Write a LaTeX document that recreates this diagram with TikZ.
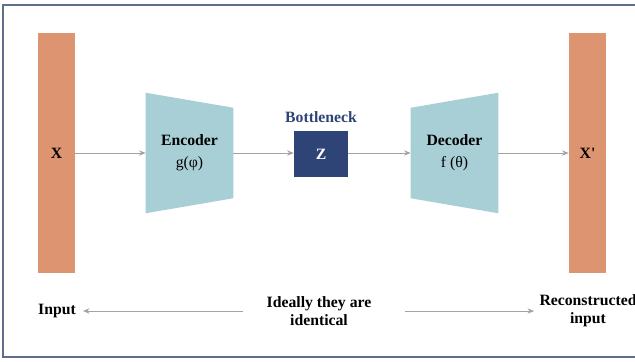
\documentclass[tikz,border=0pt]{standalone}
\usepackage{fontspec}
\setmainfont{Liberation Serif}
\usetikzlibrary{arrows.meta,backgrounds,calc}

\definecolor{naranja}{HTML}{DD9571}
\definecolor{celeste}{HTML}{A9CFD6}
\definecolor{azulz}{HTML}{2F4476}
\definecolor{gris}{HTML}{A3A3A3}
\definecolor{marco}{HTML}{5F6E8C}

\tikzset{
    barra/.style={fill=naranja, minimum width=27.8pt, minimum height=180pt, inner sep=0pt, font=\fontsize{11.8}{14}\selectfont\bfseries},
    bloque/.style={minimum width=65.3pt, minimum height=90pt, inner sep=0pt, align=center, font=\fontsize{11.8}{16.5}\selectfont},
    caja/.style={fill=azulz, text=white, minimum width=40.5pt, minimum height=34.5pt, inner sep=0pt, font=\fontsize{11.8}{14}\selectfont\bfseries},
    texto/.style={align=center, font=\fontsize{11.8}{13.5}\selectfont\bfseries},
    flecha/.style={draw=gris, line width=0.6pt, -{Stealth[length=5pt,width=4pt]}}
}

\begin{document}
\begin{tikzpicture}[x=0.75pt, y=-0.75pt]

    % Marco de la figura
    \clip (0,0) rectangle (635,361);
    \useasboundingbox (0,0) rectangle (635,361);
    \draw[marco, line width=0.8pt] (3,5) rectangle (650,357);

    % Barras de entrada y salida
    \node[barra] (x) at (56.5,153) {X};
    \node[barra] (xp) at (587.5,153) {X\textquotesingle};

    % Codificador, cuello de botella y decodificador
    \node[bloque] (enc) at (189.5,153) {\textbf{Encoder}\\g(φ)};
    \node[caja] (z) at (321,154) {Z};
    \node[texto, text=azulz] (bn) at (321,117) {Bottleneck};
    \node[bloque] (dec) at (454.5,153) {\textbf{Decoder}\\f (θ)};

    % Trapecios detrás del texto
    \begin{scope}[on background layer]
        \fill[celeste] (enc.north west) -- ($(enc.north east)+(0,15)$)
            -- ($(enc.south east)+(0,-15)$) -- (enc.south west) -- cycle;
        \fill[celeste] ($(dec.north west)+(0,15)$) -- (dec.north east)
            -- (dec.south east) -- ($(dec.south west)+(0,-15)$) -- cycle;
    \end{scope}

    % Flechas principales
    \draw[flecha] (x.east |- 0,153) -- (enc.west |- 0,153);
    \draw[flecha] (enc.east |- 0,153) -- (z.west |- 0,153);
    \draw[flecha] (z.east |- 0,153) -- (dec.west |- 0,153);
    \draw[flecha] (dec.east |- 0,153) -- (xp.west |- 0,153);

    % Textos de abajo
    \node[texto] (input) at (57,311) {Input};
    \node[texto] (ideal) at (319,311) {Ideally they are\\identical};
    \node[texto] (recon) at (588,311) {Reconstructed\\input};

    \draw[flecha, shorten <=14.3pt, shorten >=1.8pt] (ideal.west) -- (input.east);
    \draw[flecha, shorten <=22pt, shorten >=0.5pt] (ideal.east) -- (recon.west);

\end{tikzpicture}
\end{document}
